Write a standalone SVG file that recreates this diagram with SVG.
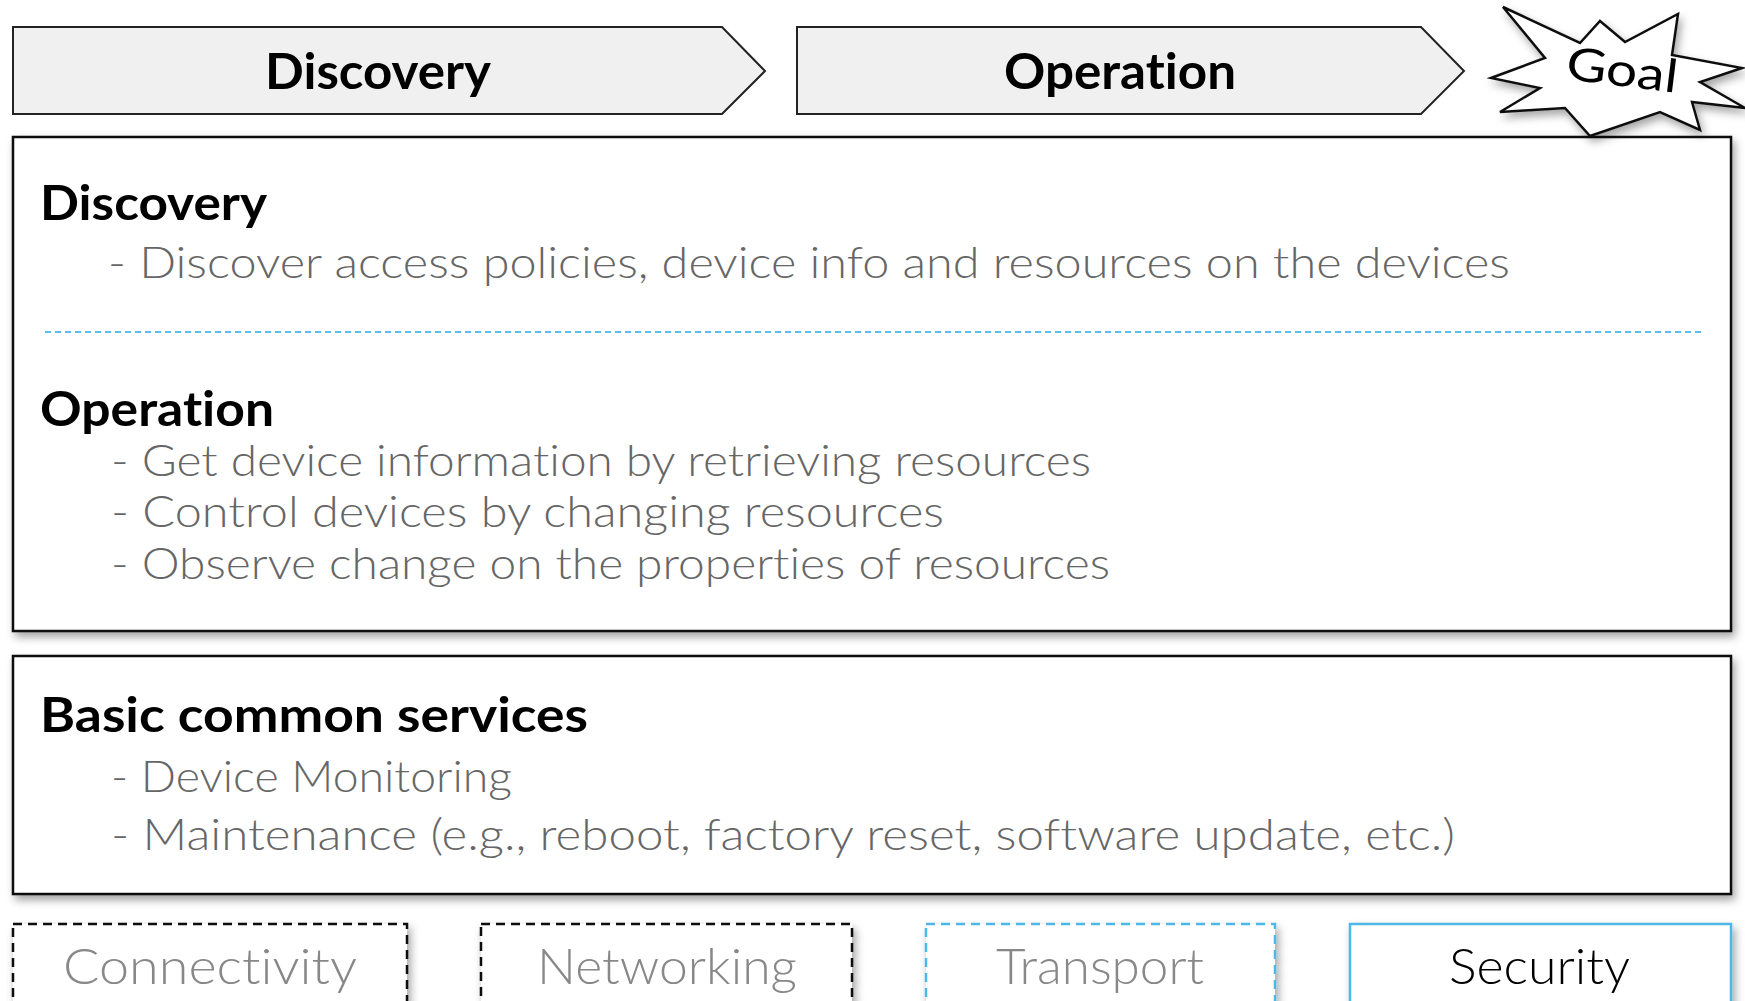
<svg xmlns="http://www.w3.org/2000/svg" width="1745" height="1001" viewBox="0 0 1745 1001">
<defs>
<filter id="sh" x="-5%" y="-5%" width="110%" height="120%">
<feDropShadow dx="3" dy="5" stdDeviation="4" flood-color="#000" flood-opacity="0.35"/>
</filter>
<style>
text{font-variant-ligatures:none;font-feature-settings:"liga" 0,"clig" 0,"dlig" 0}
.arrow{fill:#f0f0f0;stroke:#222;stroke-width:2}
.box{fill:#fff;stroke:#111;stroke-width:2.5}
.hdr{font-family:Lato,"Liberation Sans",sans-serif;font-weight:700;font-size:50px;fill:#000}
.ttl{font-family:Lato,"Liberation Sans",sans-serif;font-weight:700;font-size:48px;fill:#000}
.body{font-family:Lato,"Liberation Sans",sans-serif;font-weight:300;font-size:44px;fill:#666}
.lbl{font-family:Lato,"Liberation Sans",sans-serif;font-weight:300;font-size:50px;fill:#888}
.dk{stroke:#111;stroke-width:2.5;stroke-dasharray:9 6;fill:#fff}
.bl{stroke:#4cb8e6;stroke-width:2.5;fill:#fff}
</style>
</defs>
<rect width="1745" height="1001" fill="#fff"/>

<g id="arrow-discovery">
<polygon class="arrow" points="13,27 722,27 765,71 722,114 13,114"/>
<text class="hdr" x="378" y="89" text-anchor="middle" textLength="226" lengthAdjust="spacingAndGlyphs">Discovery</text>
</g>
<g id="arrow-operation">
<polygon class="arrow" points="797,27 1421,27 1464,71 1421,114 797,114"/>
<text class="hdr" x="1120" y="89" text-anchor="middle" textLength="232" lengthAdjust="spacingAndGlyphs">Operation</text>
</g>

<g id="main-box">
<rect class="box" x="13" y="137" width="1718" height="494" filter="url(#sh)"/>
<text class="ttl" x="40" y="220" textLength="227" lengthAdjust="spacingAndGlyphs">Discovery</text>
<text class="body" x="108" y="278" textLength="1402" lengthAdjust="spacingAndGlyphs">- Discover access policies, device info and resources on the devices</text>
<line x1="45" y1="332" x2="1703" y2="332" stroke="#5bc0eb" stroke-width="1.8" stroke-dasharray="6 4"/>
<text class="ttl" x="40" y="426" textLength="234" lengthAdjust="spacingAndGlyphs">Operation</text>
<text class="body" x="111" y="476" textLength="980" lengthAdjust="spacingAndGlyphs">- Get device information by retrieving resources</text>
<text class="body" x="111" y="527" textLength="833" lengthAdjust="spacingAndGlyphs">- Control devices by changing resources</text>
<text class="body" x="111" y="579" textLength="999" lengthAdjust="spacingAndGlyphs">- Observe change on the properties of resources</text>
</g>

<g id="goal">
<polygon points="1503,7 1580,43 1600,21 1625,42 1678,14 1672,55 1742,68 1700,82 1745,108 1692,102 1700,130 1660,112 1590,136 1565,108 1500,112 1540,88 1491,78 1545,58" fill="#fff" stroke="#111" stroke-width="2.5" stroke-linejoin="miter" filter="url(#sh)"/>
<text x="1622" y="86" text-anchor="middle" transform="rotate(7 1622 72)" font-family="Lato,'Liberation Sans',sans-serif" font-size="46" fill="#000" textLength="112" lengthAdjust="spacingAndGlyphs">Goal</text>
</g>

<g id="basic-box">
<rect class="box" x="13" y="656" width="1718" height="238" filter="url(#sh)"/>
<text class="ttl" x="40" y="732" textLength="548" lengthAdjust="spacingAndGlyphs">Basic common services</text>
<text class="body" x="111" y="792" textLength="401" lengthAdjust="spacingAndGlyphs">- Device Monitoring</text>
<text class="body" x="111" y="850" textLength="1344" lengthAdjust="spacingAndGlyphs">- Maintenance (e.g., reboot, factory reset, software update, etc.)</text>
</g>

<g id="connectivity">
<rect class="dk" x="13" y="924" width="394" height="100" filter="url(#sh)"/>
<text class="lbl" x="63" y="984" textLength="294" lengthAdjust="spacingAndGlyphs">Connectivity</text>
</g>
<g id="networking">
<rect class="dk" x="481" y="924" width="371" height="100" filter="url(#sh)"/>
<text class="lbl" x="537" y="984" textLength="260" lengthAdjust="spacingAndGlyphs">Networking</text>
</g>
<g id="transport">
<rect class="bl" x="926" y="924" width="349" height="100" stroke-dasharray="9 6" filter="url(#sh)"/>
<text class="lbl" x="996" y="984" textLength="208" lengthAdjust="spacingAndGlyphs">Transport</text>
</g>
<g id="security">
<rect class="bl" x="1350" y="924" width="381" height="100" filter="url(#sh)"/>
<text class="lbl" x="1449" y="984" style="fill:#000" textLength="181" lengthAdjust="spacingAndGlyphs">Security</text>
</g>
<g id="connectors"/>
</svg>
